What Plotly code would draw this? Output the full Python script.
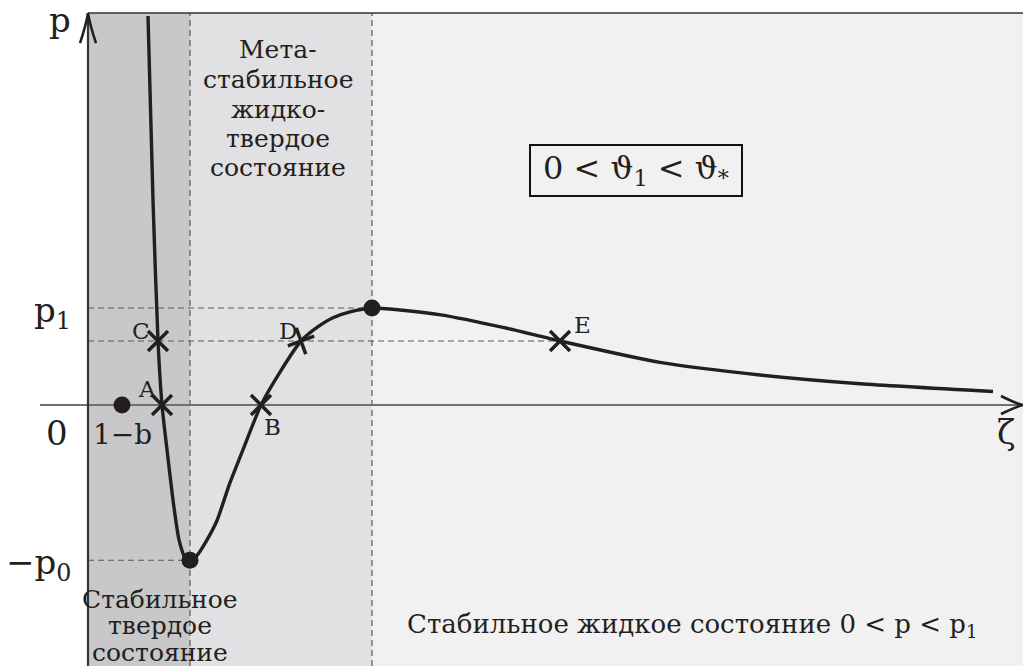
import plotly.graph_objects as go

# Isotherm p(zeta)
zeta_curve = [0.60, 0.65, 0.70, 0.74, 0.79, 0.85, 0.91, 0.97, 1.02, 1.09, 1.19, 1.29,
              1.42, 1.55, 1.73, 1.92, 2.13, 2.29, 2.45, 2.62, 2.84, 3.12, 3.53, 4.15,
              4.72, 5.72, 6.72, 7.72, 9.05]
p_curve = [4.01, 2.11, 0.66, 0.00, -0.46, -0.98, -1.39, -1.57, -1.60, -1.55, -1.39, -1.19,
           -0.80, -0.46, 0.00, 0.34, 0.66, 0.80, 0.90, 0.96, 1.00, 0.98, 0.93, 0.80,
           0.66, 0.44, 0.31, 0.22, 0.14]

# Characteristic levels
P1 = 1.00          # local maximum pressure
P0 = 1.60          # depth of the minimum (-p0)
PC = 0.66          # level of points C, D, E
ZETA_MIN = 1.02    # zeta at the minimum
ZETA_MAX = 2.84    # zeta at the maximum
ONE_MINUS_B = 0.34

# Labelled crossings
cross_names = ["C", "A", "B", "D", "E"]
cross_zeta = [0.70, 0.74, 1.73, 2.13, 4.72]
cross_p = [PC, 0.0, 0.0, PC, PC]

# Filled dots
dot_zeta = [ONE_MINUS_B, ZETA_MIN, ZETA_MAX]
dot_p = [0.0, -P0, P1]

X_LO, X_HI = -0.88, 9.35
Y_LO, Y_HI = -2.69, 4.175
TOP = 4.04
AX_START = -0.48

INK = "#231f20"
SERIF = "DejaVu Serif"
MATH = "DejaVu Serif"

fig = go.Figure()

shapes = []
# region shading
shapes.append(dict(type="rect", x0=0, x1=ZETA_MIN, y0=Y_LO, y1=TOP, fillcolor="#c8c8ca",
                   line_width=0, layer="below"))
shapes.append(dict(type="rect", x0=ZETA_MIN, x1=ZETA_MAX, y0=Y_LO, y1=TOP, fillcolor="#e1e1e3",
                   line_width=0, layer="below"))
shapes.append(dict(type="rect", x0=ZETA_MAX, x1=X_HI, y0=Y_LO, y1=TOP, fillcolor="#f1f1f1",
                   line_width=0, layer="below"))
# dashed guides
dash = dict(color="#5a5a5a", width=1.2, dash="6px,4px")
shapes.append(dict(type="line", x0=ZETA_MIN, x1=ZETA_MIN, y0=Y_LO, y1=TOP, line=dash, layer="below"))
shapes.append(dict(type="line", x0=ZETA_MAX, x1=ZETA_MAX, y0=Y_LO, y1=TOP, line=dash, layer="below"))
shapes.append(dict(type="line", x0=0, x1=ZETA_MAX, y0=P1, y1=P1, line=dash, layer="below"))
shapes.append(dict(type="line", x0=0, x1=cross_zeta[-1], y0=PC, y1=PC, line=dash, layer="below"))
shapes.append(dict(type="line", x0=0, x1=ZETA_MIN, y0=-P0, y1=-P0, line=dash, layer="below"))
# frame top
shapes.append(dict(type="line", x0=0, x1=X_HI, y0=TOP, y1=TOP, line=dict(color="#333333", width=1.5),
                   layer="below"))
# axes
shapes.append(dict(type="line", x0=AX_START, x1=X_HI, y0=0, y1=0, line=dict(color="#707070", width=2),
                   layer="below"))
shapes.append(dict(type="line", x0=0, x1=0, y0=Y_LO, y1=TOP, line=dict(color="#333333", width=2.2),
                   layer="below"))
# arrow heads
shapes.append(dict(type="path", xsizemode="pixel", ysizemode="pixel", xanchor=0, yanchor=TOP,
                   path="M -8,-30 Q -2,-12 0,0 Q 2,-12 8,-30",
                   line=dict(color=INK, width=2.6)))
shapes.append(dict(type="path", xsizemode="pixel", ysizemode="pixel", xanchor=X_HI, yanchor=0,
                   path="M -22,9 Q -8,2 0,0 Q -8,-2 -22,-9",
                   line=dict(color=INK, width=2.6)))
# formula box
shapes.append(dict(type="rect", xref="paper", yref="paper",
                   x0=530 / 1023, x1=742 / 1023, y0=1 - 196 / 666, y1=1 - 145 / 666,
                   line=dict(color="#111111", width=2), fillcolor="rgba(0,0,0,0)"))

fig.add_trace(go.Scatter(x=zeta_curve, y=p_curve, mode="lines",
                         line=dict(color=INK, width=3.4, shape="spline", smoothing=0.6),
                         hoverinfo="skip", showlegend=False))

cross_symbols = ["x-thin", "x-thin", "x-thin", "cross-thin", "x-thin"]
cross_angles = [0, 0, 0, -20, 0]
fig.add_trace(go.Scatter(x=cross_zeta, y=cross_p, mode="markers",
                         marker=dict(symbol=cross_symbols, angle=cross_angles, size=20,
                                     line=dict(color=INK, width=3.5)),
                         hoverinfo="skip", showlegend=False))
fig.add_trace(go.Scatter(x=dot_zeta, y=dot_p, mode="markers",
                         marker=dict(symbol="circle", size=17, color=INK),
                         hoverinfo="skip", showlegend=False))

ann = []


def label(text, x, y, size, xanchor="center", yanchor="middle", font=SERIF):
    ann.append(dict(text=text, x=x / 1023, y=1 - y / 666, xref="paper", yref="paper",
                    xanchor=xanchor, yanchor=yanchor, showarrow=False,
                    font=dict(family=font, size=size, color=INK)))


# axis labels
label("p", 73, 20, 34, xanchor="right", font=MATH)
label("p<sub>1</sub>", 73, 312, 34, xanchor="right", font=MATH)
label("0", 70, 433, 34, xanchor="right", font=MATH)
label("\u2212p<sub>0</sub>", 73, 564, 34, xanchor="right", font=MATH)
label("1\u2212b", 122, 434, 28, font=MATH)
label("\u03b6", 1006, 432, 34, font=MATH)

# point letters
letter_pos = {"C": (141, 331), "A": (147, 389), "B": (272, 427), "D": (288, 331), "E": (582, 325)}
for name in cross_names:
    px, py = letter_pos[name]
    label(name, px, py, 23)

# region captions
meta_lines = ["Мета-", "стабильное", "жидко-", "твердое", "состояние"]
for i, t in enumerate(meta_lines):
    label(t, 278, 50 + 29.5 * i, 25)
solid_lines = ["Стабильное", "твердое", "состояние"]
for i, t in enumerate(solid_lines):
    label(t, 160, 599 + 26.5 * i, 25)
label("Стабильное жидкое состояние 0 &lt; p &lt; p<sub>1</sub>", 692, 625, 26)
label("0 &lt; \u03d1<sub>1</sub> &lt; \u03d1<sub>*</sub>", 636, 170, 32, font=MATH)

fig.update_layout(
    width=1023, height=666,
    margin=dict(l=0, r=0, t=0, b=0),
    paper_bgcolor="white", plot_bgcolor="white",
    xaxis=dict(range=[X_LO, X_HI], visible=False, fixedrange=True),
    yaxis=dict(range=[Y_LO, Y_HI], visible=False, fixedrange=True),
    shapes=shapes, annotations=ann, showlegend=False,
)

fig.write_html("out.html")
